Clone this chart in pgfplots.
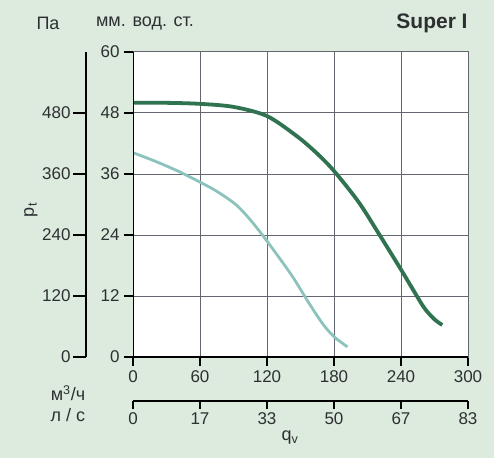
\documentclass[border=0pt]{standalone}
\usepackage{pgfplots}
\pgfplotsset{compat=1.18}
\usepackage{fontspec}
\setmainfont{Liberation Sans}
\definecolor{bgg}{RGB}{220,235,222}
\definecolor{dk}{RGB}{48,115,80}
\definecolor{lt}{RGB}{140,195,188}
\definecolor{txt}{RGB}{45,48,50}
\definecolor{gridc}{RGB}{100,102,112}
\begin{document}
\begin{tikzpicture}[font=\fontsize{18}{20}\selectfont]
\fill[bgg] (-133pt,-101pt) rectangle (361pt,357pt);
\begin{axis}[at={(0,0)}, anchor=south west, scale only axis, width=335pt, height=305pt,
 xmin=0, xmax=300, ymin=0, ymax=60, xtick={0,60,...,300}, ytick={0,12,...,60},
 grid=major, major grid style={gridc, line width=1pt},
 axis line style={gridc, line width=1pt},
 axis background/.style={fill=white},
 tick pos=left, tick align=outside, major tick length=9pt,
 tick style={black, line width=1.4pt},
 ticklabel style={text=txt, font=\fontsize{17}{19}\selectfont},
 xticklabel style={yshift=-1pt},
 yticklabel style={xshift=-1pt},
 /pgf/number format/assume math mode=true]
\addplot[dk, line width=3.8pt, smooth] coordinates {(0,50) (30,50) (60,49.8) (90,49.2) (120,47.4) (147,43.4) (165,40) (180,36.6) (202,30.5) (220,24.3) (240,17.2) (252,12.8) (261,9.6) (270,7.4) (277,6.3)};
\addplot[lt, line width=2.8pt, smooth] coordinates {(0,40.2) (20,38.5) (41,36.5) (60,34.4) (75,32.6) (92,30.0) (105,27) (120,22.8) (142,16.1) (157,10.8) (170,6.5) (180,4) (192,2)};
\draw[black, line width=1.6pt] (rel axis cs:0,1) -- (rel axis cs:0,0) -- (rel axis cs:1,0);
\end{axis}
\begin{axis}[at={(-47pt,0)}, anchor=south west, scale only axis, width=1pt, height=305pt,
 xmin=0, xmax=1, ymin=0, ymax=600, ytick={0,120,...,480},
 hide x axis, axis y line*=left, y axis line style={-, black, line width=1.6pt},
 tick align=outside, major tick length=13pt, tick style={black, line width=1.4pt},
 ticklabel style={text=txt, font=\fontsize{17}{19}\selectfont},
 yticklabel style={xshift=1pt},
 /pgf/number format/assume math mode=true]
\end{axis}
\begin{axis}[at={(0,-44pt)}, anchor=south west, scale only axis, width=335pt, height=1pt,
 xmin=0, xmax=83.3333, ymin=0, ymax=1, xtick={0,16.6667,33.3333,50,66.6667,83.3333},
 xticklabels={0,17,33,50,67,83},
 hide y axis, axis x line*=bottom, x axis line style={-, black, line width=1.6pt},
 tick align=outside, major tick length=8pt, tick style={black, line width=1.4pt},
 ticklabel style={text=txt, font=\fontsize{17}{19}\selectfont},
 /pgf/number format/assume math mode=true]
\end{axis}
\node[txt] at (-85pt,334pt) {Па};
\node[txt] at (12pt,334pt) {мм. вод. ст.};
\node[txt, font=\bfseries\fontsize{21}{24}\selectfont] at (299pt,334pt) {Super I};
\node[txt, rotate=90] at (-102pt,147pt) {p\textsubscript{t}};
\node[txt] at (-65pt,-36pt) {м\textsuperscript{3}/ч};
\node[txt] at (-65pt,-58pt) {л / с};
\node[txt] at (157pt,-81pt) {q\textsubscript{v}};
\pgfresetboundingbox
\useasboundingbox (-133pt,-101pt) rectangle (361pt,357pt);
\end{tikzpicture}
\end{document}
